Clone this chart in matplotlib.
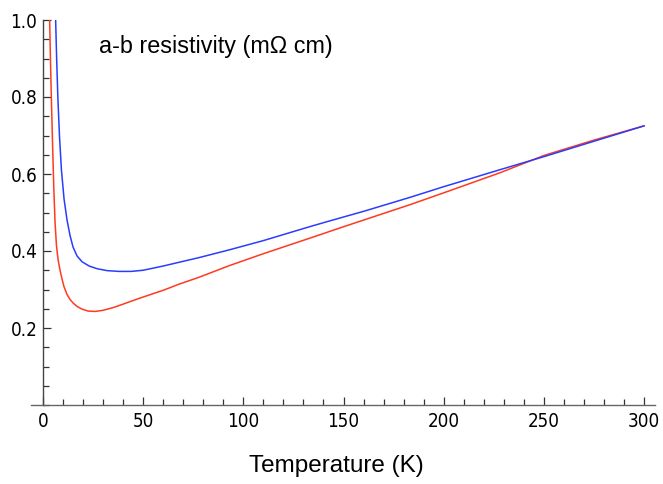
import matplotlib
matplotlib.use('Agg')
import matplotlib.pyplot as plt
from matplotlib.ticker import MultipleLocator, FixedLocator

# temperature (K) and a-b resistivity (mOhm cm)
t_red = [3.3, 3.7, 4.2, 4.8, 5.4, 6.0, 6.7, 7.5, 8.5, 9.5, 10.5, 12, 13.5,
         15, 17, 19.5, 22.5, 26, 30, 35, 40, 48, 60, 68, 78, 93, 110, 133,
         150, 183, 200, 228, 250, 275, 300]
rho_red = [1.0, 0.9, 0.79, 0.67, 0.56, 0.475, 0.415, 0.378, 0.35, 0.327,
           0.307, 0.287, 0.274, 0.265, 0.256, 0.249, 0.244, 0.243, 0.246,
           0.253, 0.262, 0.277, 0.298, 0.314, 0.332, 0.362, 0.393, 0.433,
           0.463, 0.52, 0.551, 0.603, 0.648, 0.688, 0.725]

t_blue = [6.3, 6.8, 7.4, 8.2, 9.2, 10.5, 12, 13.5, 15, 17, 19.5, 23, 27, 32,
          38, 44, 50, 60, 78, 93, 110, 133, 143, 160, 183, 200, 228, 250,
          275, 300]
rho_blue = [1.0, 0.9, 0.8, 0.7, 0.61, 0.535, 0.48, 0.44, 0.41, 0.387, 0.372,
            0.361, 0.354, 0.349, 0.347, 0.347, 0.35, 0.361, 0.383, 0.403,
            0.427, 0.463, 0.478, 0.503, 0.539, 0.567, 0.611, 0.645, 0.685,
            0.725]

x_major = [0, 50, 100, 150, 200, 250, 300]
y_major = [0.2, 0.4, 0.6, 0.8, 1.0]

text_font = ['Liberation Sans', 'DejaVu Sans']

fig = plt.figure(figsize=(6.63, 4.84), dpi=100)
ax = fig.add_axes([31 / 663, 79 / 484, (655 - 31) / 663, (464 - 79) / 484])

ax.plot(t_red, rho_red, color='#ff3a1e', lw=1.1, solid_joinstyle='round')
ax.plot(t_blue, rho_blue, color='#2a3cff', lw=1.1, solid_joinstyle='round')

ax.set_xlim(-6, 305.5)
ax.set_ylim(0, 1.0)

for s in ['top', 'right']:
    ax.spines[s].set_visible(False)
ax.spines['left'].set_position(('data', 0))
ax.spines['left'].set_color('#444444')
ax.spines['bottom'].set_color('#666666')
ax.spines['left'].set_linewidth(1.0)
ax.spines['bottom'].set_linewidth(1.0)

ax.xaxis.set_major_locator(FixedLocator(x_major))
ax.xaxis.set_minor_locator(MultipleLocator(10))
ax.yaxis.set_major_locator(FixedLocator(y_major))
ax.yaxis.set_minor_locator(MultipleLocator(0.05))
ax.set_xticklabels([str(v) for v in x_major], fontfamily='DejaVu Sans',
                   fontstretch='condensed', fontsize=13.5)
ax.set_yticklabels(['%.1f' % v for v in y_major], fontfamily='DejaVu Sans',
                   fontstretch='condensed', fontsize=13.5)

ax.tick_params(which='both', direction='in', color='#333333', width=0.9)
ax.tick_params(which='major', length=6, pad=5)
ax.tick_params(which='minor', length=4)
ax.tick_params(axis='y', pad=4)

ax.text(0.109, 0.93, 'a-b resistivity (m\u03a9 cm)', transform=ax.transAxes,
        fontfamily=text_font, fontsize=16.8, va='center', ha='left')
fig.text(336 / 663, 1 - 466 / 484, 'Temperature (K)', fontfamily=text_font,
         fontsize=17.5, ha='center', va='center')

fig.savefig('out.png', dpi=100)
